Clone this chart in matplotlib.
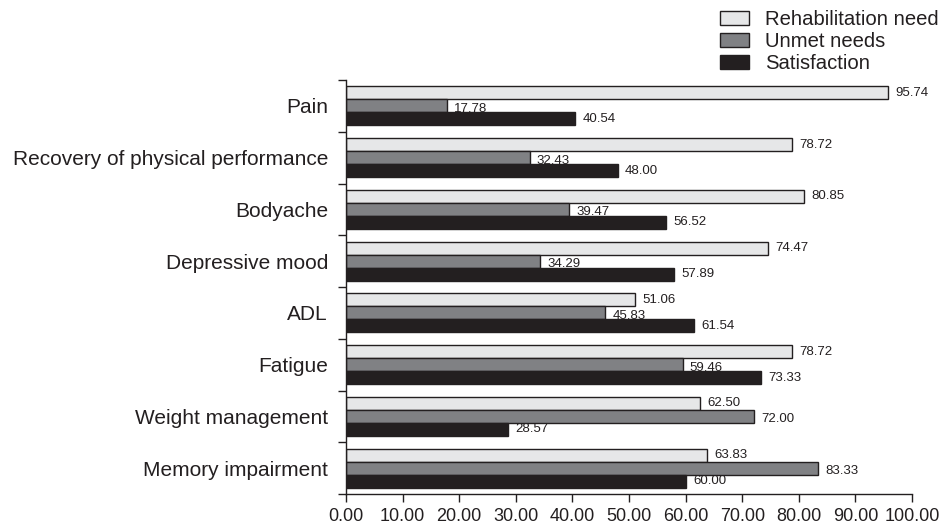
import matplotlib
matplotlib.use("Agg")
import matplotlib.pyplot as plt
import numpy as np

plt.rcParams['font.family'] = ['Liberation Sans', 'DejaVu Sans']

categories = ["Pain", "Recovery of physical performance", "Bodyache", "Depressive mood",
              "ADL", "Fatigue", "Weight management", "Memory impairment"]
rehab_need = [95.74, 78.72, 80.85, 74.47, 51.06, 78.72, 62.50, 63.83]
unmet_needs = [17.78, 32.43, 39.47, 34.29, 45.83, 59.46, 72.00, 83.33]
satisfaction = [40.54, 48.00, 56.52, 57.89, 61.54, 73.33, 28.57, 60.00]
xticks = [0, 10, 20, 30, 40, 50, 60, 70, 80, 90, 100]

txt = '#231f20'
fig = plt.figure(figsize=(9.46, 5.30), dpi=100)
ax = fig.add_axes([346/946, 1-494/530, (912-346)/946, (494-80)/530])

y = np.arange(len(categories))
h = 0.25
series = [(rehab_need, '#e6e7e8', 'Rehabilitation need', -h),
          (unmet_needs, '#808184', 'Unmet needs', 0),
          (satisfaction, '#231f20', 'Satisfaction', h)]
for vals, col, lab, off in series:
    ax.barh(y + off, vals, height=h, color=col, edgecolor=txt, linewidth=1.0, label=lab)
    for yi, v in zip(y + off, vals):
        dy = 0.06 if off == 0 else 0.0
        ax.text(v + 1.3, yi + dy, f"{v:.2f}", va='center', ha='left', fontsize=9.5, color=txt)

ax.set_ylim(len(categories) - 0.5, -0.5)
ax.set_xlim(0, 100)
ax.set_yticks(y)
ax.set_yticklabels(categories, fontsize=15, color=txt)
ax.tick_params(axis='y', which='major', length=0, pad=13)
ax.set_yticks(np.arange(-0.5, len(categories) + 0.5, 1), minor=True)
ax.tick_params(axis='y', which='minor', length=6, width=1, color=txt, direction='out')
ax.set_xticks(xticks)
ax.set_xticklabels([f"{t:.2f}" for t in xticks], fontsize=13, color=txt)
ax.tick_params(axis='x', length=6, width=1, color=txt, direction='out', pad=4)
for s in ['top', 'right']:
    ax.spines[s].set_visible(False)
for s in ['left', 'bottom']:
    ax.spines[s].set_color(txt)
    ax.spines[s].set_linewidth(1)

handles, labels = ax.get_legend_handles_labels()
fig.legend(handles, labels, loc='upper left', bbox_to_anchor=(712/946, 1 - 2/530),
           frameon=False, fontsize=14.6, handlelength=1.4, handleheight=0.67,
           handletextpad=0.8, labelspacing=0.14, labelcolor=txt, borderaxespad=0)

fig.savefig("out.png", dpi=100)
